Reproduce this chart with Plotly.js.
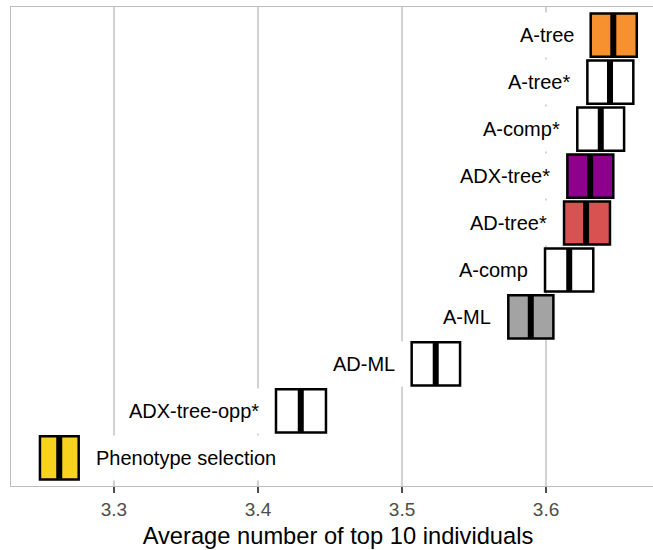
<!DOCTYPE html>
<html>
<head>
<meta charset="utf-8">
<script src="https://cdn.plot.ly/plotly-3.0.1.min.js"></script>
<style>
html,body{margin:0;padding:0;overflow:hidden;background:#fff;}
#chart{width:670px;height:550px;}
</style>
</head>
<body>
<div id="chart"></div>
<script>
// Methods, top to bottom
const methods = ["A-tree","A-tree*","A-comp*","ADX-tree*","AD-tree*","A-comp","A-ML","AD-ML","ADX-tree-opp*","Phenotype selection"];
const meanVals = [3.6467,3.6444,3.6380,3.6306,3.6278,3.6161,3.5894,3.5234,3.4297,3.2620];
const lowerVals = [3.6310,3.6287,3.6217,3.6148,3.6125,3.5993,3.5738,3.5067,3.4125,3.2486];
const upperVals = [3.6630,3.6606,3.6542,3.6467,3.6444,3.6328,3.6051,3.5403,3.4472,3.2755];
const fillColors = ["#F7902F","#FFFFFF","#FFFFFF","#8C008C","#D95252","#FFFFFF","#A3A3A3","#FFFFFF","#FFFFFF","#F8D31E"];
const labelRight = [false,false,false,false,false,false,false,false,false,true];
const tickVals = [3.3,3.4,3.5,3.6];
const tickText = ["3.3","3.4","3.5","3.6"];

const boxTrace = {
  type:"bar", orientation:"h",
  y: methods,
  x: upperVals.map((u,i)=>u-lowerVals[i]),
  base: lowerVals,
  width: 0.92,
  marker:{color: fillColors, line:{color:"#000", width:2.5}},
  hoverinfo:"skip"
};
const midTrace = {
  type:"scatter", mode:"markers",
  y: methods, x: meanVals,
  marker:{symbol:"line-ns", size:30, color:"#000", line:{color:"#000", width:6}},
  hoverinfo:"skip"
};

const annotations = methods.map((m,i)=>({
  x: labelRight[i] ? upperVals[i] : lowerVals[i],
  y: m, xref:"x", yref:"y",
  text: m, showarrow:false,
  xanchor: labelRight[i] ? "left" : "right",
  xshift: labelRight[i] ? 5 : -5,
  bgcolor:"#FFFFFF", borderpad:11,
  font:{family:"Liberation Sans, Arial, sans-serif", size:20, color:"#000"}
}));

const layout = {
  width:670, height:550,
  margin:{l:11, r:5, t:7, b:64},
  paper_bgcolor:"#fff", plot_bgcolor:"#fff",
  showlegend:false,
  barmode:"overlay",
  font:{family:"Liberation Sans, Arial, sans-serif"},
  xaxis:{
    range:[3.2285,3.6826],
    tickvals:tickVals, ticktext:tickText,
    showgrid:true, gridcolor:"#D3D3D3", gridwidth:2,
    zeroline:false,
    showline:true, mirror:true, linecolor:"#BDBDBD", linewidth:1.3,
    ticks:"outside", ticklen:6, tickwidth:2, tickcolor:"#4D4D4D",
    tickfont:{size:19, color:"#4D4D4D"},
    title:{text:"Average number of top 10 individuals", font:{size:23.7, color:"#000"}, standoff:8}
  },
  yaxis:{
    type:"category", categoryorder:"array", categoryarray:methods,
    range:[9.6,-0.6],
    showticklabels:false, showgrid:false, zeroline:false, ticks:"",
    showline:true, mirror:true, linecolor:"#BDBDBD", linewidth:1.3
  },
  annotations: annotations
};

Plotly.newPlot("chart",[boxTrace, midTrace],layout,{displayModeBar:false, staticPlot:true});
</script>
</body>
</html>
